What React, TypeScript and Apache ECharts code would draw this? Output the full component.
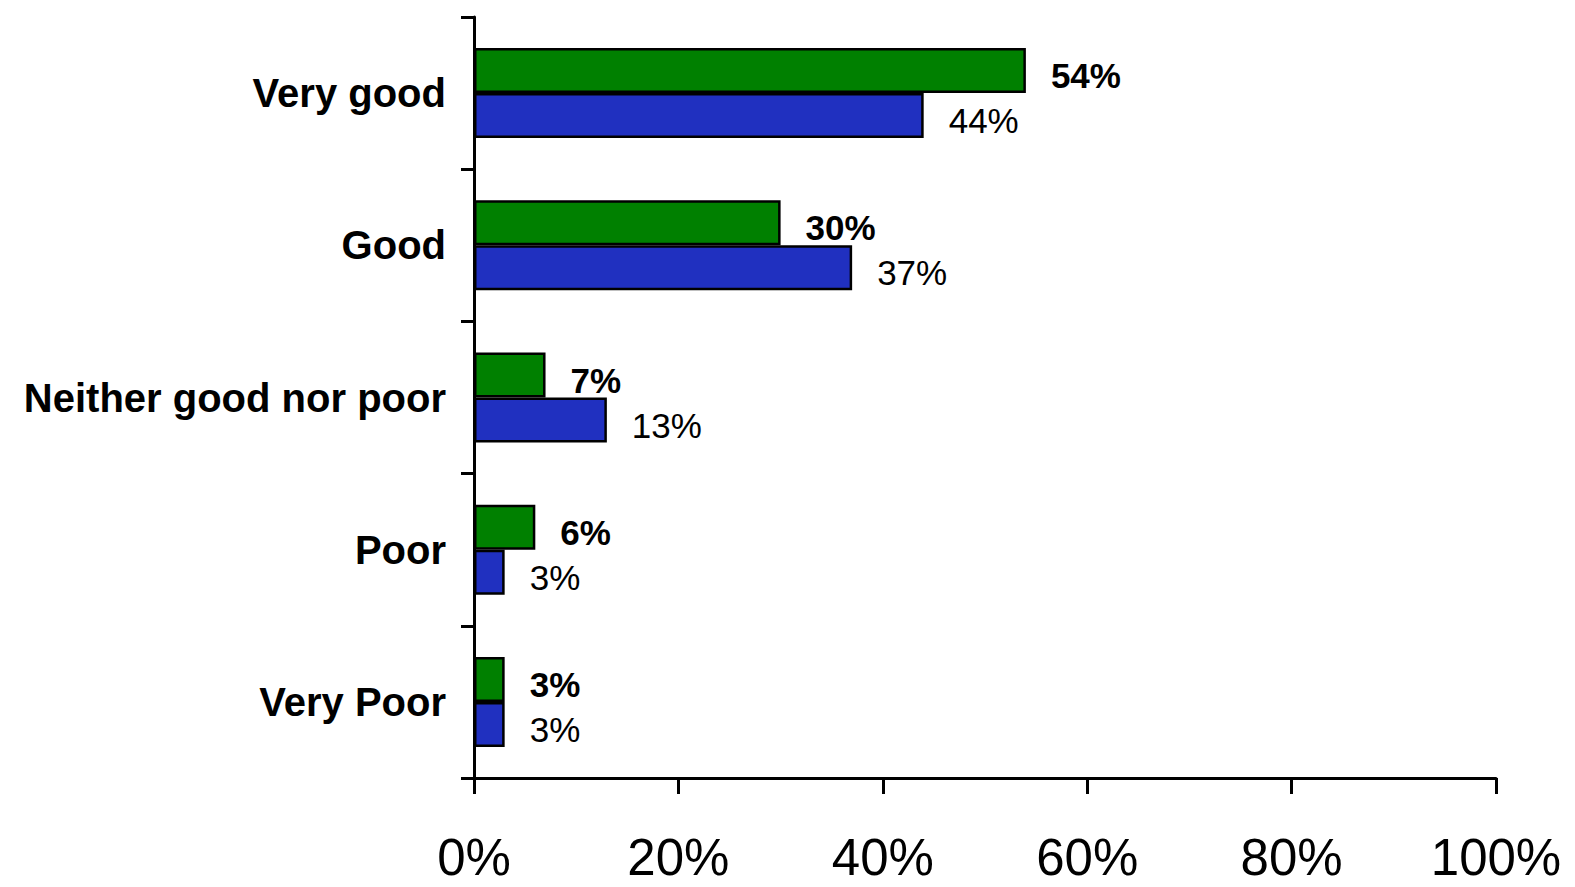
import React, { useEffect, useRef } from "react";
import * as echarts from "echarts";

const categories = ["Very good", "Good", "Neither good nor poor", "Poor", "Very Poor"];
const greenValues = [54, 30, 7, 6, 3];
const blueValues = [44, 37, 13, 3, 3];
const xTicks = [0, 20, 40, 60, 80, 100];

const FONT = "'Liberation Sans', Arial, Helvetica, sans-serif";

export default function App() {
  const ref = useRef<HTMLDivElement>(null);
  useEffect(() => {
    if (!ref.current) return;
    const chart = echarts.init(ref.current, null, { renderer: "svg" });
    chart.setOption({
      animation: false,
      backgroundColor: "#ffffff",
      grid: { left: 474, right: 79, top: 17, bottom: 109, containLabel: false },
      xAxis: {
        type: "value",
        min: xTicks[0],
        max: xTicks[xTicks.length - 1],
        interval: 20,
        axisLine: { show: true, lineStyle: { color: "#000", width: 3 } },
        axisTick: { show: true, length: 16, lineStyle: { color: "#000", width: 3 } },
        axisLabel: {
          formatter: "{value}%",
          fontFamily: FONT,
          fontSize: 51,
          color: "#000",
          margin: 54,
        },
        splitLine: { show: false },
      },
      yAxis: {
        type: "category",
        data: categories,
        inverse: true,
        axisLine: { show: true, lineStyle: { color: "#000", width: 3 } },
        axisTick: { show: true, length: 13, lineStyle: { color: "#000", width: 3 } },
        axisLabel: {
          fontFamily: FONT,
          fontSize: 40,
          fontWeight: "bold",
          color: "#000",
          margin: 28,
        },
      },
      series: [
        {
          name: "Green",
          type: "bar",
          data: greenValues,
          barWidth: 45,
          barGap: "0%",
          itemStyle: { color: "#008000", borderColor: "#000", borderWidth: 2.5 },
          label: {
            show: true,
            position: "right",
            distance: 25,
            offset: [0, 5],
            formatter: "{c}%",
            fontFamily: FONT,
            fontSize: 35,
            fontWeight: "bold",
            color: "#000",
          },
        },
        {
          name: "Blue",
          type: "bar",
          data: blueValues,
          barWidth: 45,
          barGap: "0%",
          itemStyle: { color: "#2030C0", borderColor: "#000", borderWidth: 2.5 },
          label: {
            show: true,
            position: "right",
            distance: 25,
            offset: [0, 5],
            formatter: "{c}%",
            fontFamily: FONT,
            fontSize: 35,
            color: "#000",
          },
        },
      ],
    });
    return () => chart.dispose();
  }, []);
  return (
    <div
      ref={ref}
      style={{ position: "absolute", left: 0, top: 0, width: 1575, height: 887, background: "#fff" }}
    />
  );
}
